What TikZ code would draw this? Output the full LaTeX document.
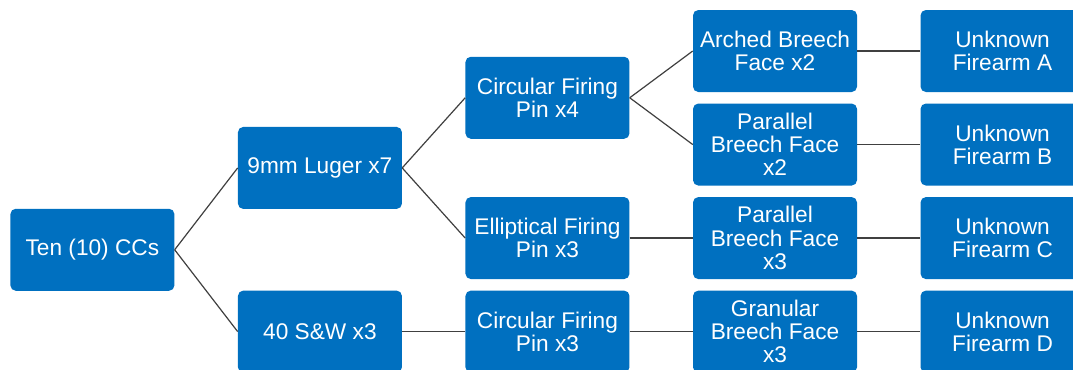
\documentclass[tikz,border=0pt]{standalone}
\usepackage{fontspec}
\setmainfont{Liberation Sans}
\usepackage{tikz}
\usetikzlibrary{positioning,calc}
\definecolor{boxblue}{RGB}{0,112,192}
\definecolor{linkgray}{RGB}{64,64,64}

\begin{document}
\begin{tikzpicture}[
  x=0.75pt, y=-0.75pt,
  node distance=8.25pt and 47.25pt,
  box/.style={fill=boxblue, rounded corners=4pt, minimum width=123pt, minimum height=61.5pt,
    align=center, inner sep=2pt, text=white, font=\fontsize{17}{17.4}\selectfont},
  link/.style={draw=linkgray, line width=0.9pt},
]
\useasboundingbox[fill=white] (0,0) rectangle (1073,369);

% breech face column
\node[box] (arched) at (775,51) {Arched Breech\\Face x2};
\node[box, below=of arched] (parallelB) {Parallel\\Breech Face\\x2};
\node[box, below=of parallelB] (parallelC) {Parallel\\Breech Face\\x3};
\node[box, below=of parallelC] (granular) {Granular\\Breech Face\\x3};

% unknown firearms
\node[box, right=of arched] (fireA) {Unknown\\Firearm A};
\node[box, right=of parallelB] (fireB) {Unknown\\Firearm B};
\node[box, right=of parallelC] (fireC) {Unknown\\Firearm C};
\node[box, right=of granular] (fireD) {Unknown\\Firearm D};

% firing pin column
\coordinate (m1) at ($(arched.west)!0.5!(parallelB.west)$);
\node[box, left=of m1] (circfour) {Circular Firing\\Pin x4};
\node[box, left=of parallelC] (elliptical) {Elliptical Firing\\Pin x3};
\node[box, left=of granular] (circthree) {Circular Firing\\Pin x3};

% calibre column
\coordinate (m2) at ($(circfour.west)!0.5!(elliptical.west)$);
\node[box, left=of m2] (luger) {9mm Luger x7};
\node[box, left=of circthree] (sw) {40 S\&W x3};

% root
\coordinate (m3) at ($(luger.west)!0.5!(sw.west)$);
\node[box, left=of m3] (ten) {Ten (10) CCs};

% links
\draw[link] (ten.east) -- (luger.west);
\draw[link] (ten.east) -- (sw.west);
\draw[link] (luger.east) -- (circfour.west);
\draw[link] (luger.east) -- (elliptical.west);
\draw[link] (sw.east) -- (circthree.west);
\draw[link] (circfour.east) -- (arched.west);
\draw[link] (circfour.east) -- (parallelB.west);
\draw[link] (elliptical.east) -- (parallelC.west);
\draw[link] (circthree.east) -- (granular.west);
\draw[link] (arched.east) -- (fireA.west);
\draw[link] (parallelB.east) -- (fireB.west);
\draw[link] (parallelC.east) -- (fireC.west);
\draw[link] (granular.east) -- (fireD.west);

\end{tikzpicture}
\end{document}
